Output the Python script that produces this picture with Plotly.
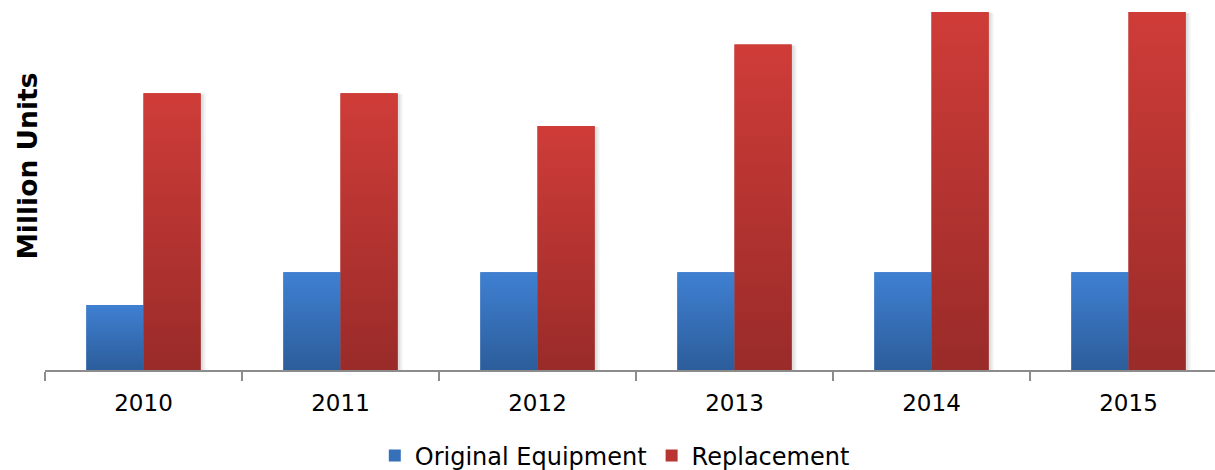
import plotly.graph_objects as go

years = ["2010", "2011", "2012", "2013", "2014", "2015"]
original_equipment = [2, 3, 3, 3, 3, 3]
replacement = [8.5, 8.5, 7.5, 10, 11, 11]

series = [
    ("Original Equipment", original_equipment, "#2c5d9b", "#3f80d2", "#3670b8", -1),
    ("Replacement", replacement, "#992b29", "#cf3c38", "#b93532", 1),
]

BAR_W = 0.29
FONT = "DejaVu Sans"

fig = go.Figure()

# Soft drop shadow behind each bar
for name, values, dark, light, mid, side in series:
    for i, v in enumerate(values):
        x0 = i if side > 0 else i - BAR_W
        x1 = x0 + BAR_W
        for off, alpha in ((0.025, 0.05), (0.014, 0.07)):
            fig.add_trace(go.Scatter(
                x=[x0 + off, x0 + off, x1 + off, x1 + off, x0 + off],
                y=[0, v - 0.03, v - 0.03, 0, 0],
                fill="toself", fillcolor=f"rgba(0,0,0,{alpha})",
                mode="lines", line=dict(width=0),
                showlegend=False, hoverinfo="skip",
            ))

# Grouped bars (solid base, also used for the legend)
for name, values, dark, light, mid, side in series:
    fig.add_trace(go.Bar(
        x=list(range(len(years))), y=values, name=name,
        marker=dict(color=mid, line=dict(width=0)),
    ))

# Vertical gradient fill laid over each bar
for name, values, dark, light, mid, side in series:
    for i, v in enumerate(values):
        x0 = i if side > 0 else i - BAR_W
        x1 = x0 + BAR_W
        fig.add_trace(go.Scatter(
            x=[x0, x0, x1, x1, x0], y=[0, v, v, 0, 0],
            fill="toself",
            fillgradient=dict(type="vertical", start=0, stop=v,
                              colorscale=[[0, dark], [1, light]]),
            mode="lines", line=dict(width=0),
            showlegend=False, hoverinfo="skip",
        ))

fig.update_layout(
    width=1215, height=470,
    margin=dict(l=45, r=0, t=0, b=100, autoexpand=False),
    paper_bgcolor="white", plot_bgcolor="white",
    barmode="group", bargap=0.42, bargroupgap=0,
    font=dict(family=FONT, color="black"),
    showlegend=True,
    legend=dict(orientation="h", x=0.487, xanchor="center",
                yref="container", y=14 / 470, yanchor="middle",
                font=dict(size=24, family=FONT), traceorder="normal",
                itemwidth=30),
    xaxis=dict(
        range=[-0.5, -0.5 + 1170 / 197],
        tickmode="array", tickvals=list(range(len(years))), ticktext=years,
        ticks="", tickfont=dict(size=23, family=FONT),
        ticklabelstandoff=11,
        showline=True, linecolor="#8c8c8c", linewidth=2,
        showgrid=False, zeroline=False, automargin=False,
        minor=dict(tickmode="array",
                   tickvals=[i - 0.5 for i in range(len(years) + 1)],
                   ticks="outside", ticklen=9, tickcolor="#8c8c8c",
                   tickwidth=2, showgrid=False),
    ),
    yaxis=dict(
        range=[0, 370 / 32.55],
        showticklabels=False, ticks="", showgrid=False,
        zeroline=False, showline=False, automargin=False,
    ),
    annotations=[dict(
        text="<b>Million Units</b>", textangle=-90,
        xref="paper", yref="paper",
        x=(26.5 - 45) / 1170, y=(370 - 166) / 370,
        xanchor="center", yanchor="middle", showarrow=False,
        font=dict(size=26.5, family=FONT, color="black"),
    )],
)

fig.write_html("out.html")
